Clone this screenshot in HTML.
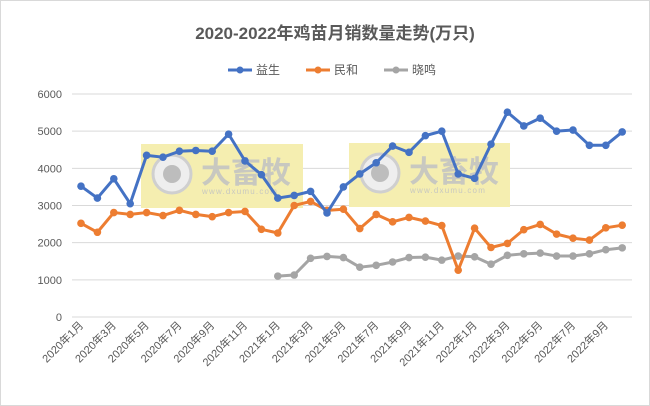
<!DOCTYPE html>
<html><head><meta charset="utf-8"><style>
body{margin:0;background:#fff;}
svg{display:block;font-family:"Liberation Sans","Noto Sans CJK SC",sans-serif;}
</style></head><body>
<svg id="c" width="650" height="406" viewBox="0 0 650 406">
<rect x="0.5" y="0.5" width="649" height="405" fill="#fff" stroke="#d9d9d9"/>
<text x="335" y="39" text-anchor="middle" font-size="17" font-weight="bold" fill="#595959">2020-2022年鸡苗月销数量走势(万只)</text>
<g font-size="12" fill="#595959">
<line x1="228" y1="70" x2="252" y2="70" stroke="#4472c4" stroke-width="3"/><circle cx="240" cy="70" r="3.5" fill="#4472c4"/><text x="256" y="74">益生</text>
<line x1="306" y1="70" x2="330" y2="70" stroke="#ed7d31" stroke-width="3"/><circle cx="318" cy="70" r="3.5" fill="#ed7d31"/><text x="334" y="74">民和</text>
<line x1="384" y1="70" x2="408" y2="70" stroke="#a5a5a5" stroke-width="3"/><circle cx="396" cy="70" r="3.5" fill="#a5a5a5"/><text x="412" y="74">晓鸣</text>
</g>
<g id="grid"></g>
<g id="wm"></g>
<g id="series"></g>
<g id="xl" font-size="11" fill="#595959"></g>
</svg>
<script>
var ns="http://www.w3.org/2000/svg";
function el(p,t,a,txt){var e=document.createElementNS(ns,t);for(var k in a)e.setAttribute(k,a[k]);if(txt)e.textContent=txt;document.getElementById(p).appendChild(e);return e;}
var y0=317,sc=223/6000;
function Y(v){return y0-v*sc;}
function X(i){return 81+i*16.4;}
for(var v=0;v<=6000;v+=1000){el("grid","line",{x1:72,x2:632,y1:Y(v),y2:Y(v),stroke:"#d9d9d9","stroke-width":1});
el("grid","text",{x:62,y:Y(v)+4,"text-anchor":"end","font-size":11,fill:"#595959"},String(v));}
var b=[3520,3200,3720,3050,4350,4300,4460,4480,4460,4920,4200,3830,3200,3270,3380,2800,3500,3850,4150,4600,4430,4880,5000,3850,3730,4650,5510,5140,5350,5000,5030,4620,4620,4980];
var o=[2520,2280,2810,2760,2810,2730,2870,2760,2700,2810,2840,2360,2260,3000,3110,2870,2900,2380,2760,2560,2680,2580,2460,1260,2390,1870,1980,2350,2490,2230,2120,2070,2400,2470];
var g=[1100,1130,1580,1630,1600,1340,1390,1480,1600,1610,1530,1640,1620,1420,1660,1700,1720,1640,1640,1700,1810,1860];
[[141,144,162],[349,143,161]].forEach(function(q){var x=q[0],y=q[1];
el("wm","rect",{x:x,y:y,width:q[2],height:64,fill:"#f5eeb0"});
el("wm","circle",{cx:x+31,cy:y+30,r:19,fill:"#eeeeee",stroke:"#cfcfcf","stroke-width":3});
el("wm","circle",{cx:x+31,cy:y+30,r:9,fill:"#bdbdbd"});
el("wm","text",{x:x+60,y:y+39,"font-size":30,"font-weight":"bold",fill:"#c8c8c0"},"大畜牧");
el("wm","text",{x:x+61,y:y+50,"font-size":8,fill:"#c8c8c0","letter-spacing":1.2},"www.dxumu.com");});
function draw(d,off,c){var p=d.map(function(v,i){return X(i+off)+","+Y(v)}).join(" ");
el("series","polyline",{points:p,fill:"none",stroke:c,"stroke-width":3,"stroke-linejoin":"round"});
d.forEach(function(v,i){el("series","circle",{cx:X(i+off),cy:Y(v),r:3.8,fill:c});});}
draw(g,12,"#a5a5a5");draw(o,0,"#ed7d31");draw(b,0,"#4472c4");
var yrs=[2020,2021,2022];
for(var i=0;i<34;i+=2){var yr=yrs[Math.floor(i/12)],m=i%12+1;var x=X(i)+3,y=326;
el("xl","text",{x:x,y:y,"text-anchor":"end",transform:"rotate(-45 "+x+" "+y+")"},yr+"年"+m+"月");}
</script>
</body></html>
